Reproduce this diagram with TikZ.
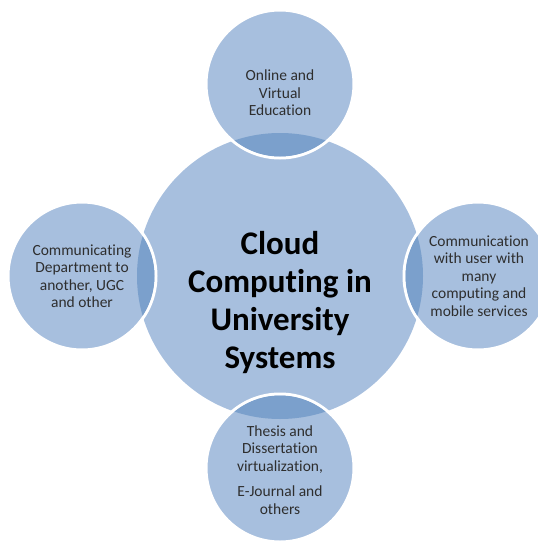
\documentclass[tikz,border=0pt]{standalone}
\usepackage{fontspec}
\setmainfont{Carlito}[Ligatures=NoCommon]
\usepackage{tikz}
\usetikzlibrary{positioning}
\definecolor{cloudblue}{HTML}{A7BFDE}
\definecolor{lensblue}{HTML}{7BA0CC}
\definecolor{leafgray}{HTML}{2E2E2E}
\tikzset{
  hub/.style={circle,fill=cloudblue,minimum size=286pt,inner sep=0pt},
  leaf/.style={circle,fill=cloudblue,draw=white,line width=3pt,minimum size=148pt,inner sep=0pt},
  leaftext/.style={align=center,text=leafgray,font=\fontsize{15.5}{17.5}\selectfont},
  hubtext/.style={align=center,font=\fontsize{33}{38}\selectfont\bfseries}
}

\begin{document}
\begin{tikzpicture}[x=1pt,y=-1pt]
  \useasboundingbox (0,0) rectangle (538,549);
  \node[hub] (hub) at (280,276) {};
  \node[leaf] (online) at (280,84) {};
  \node[leaf] (dept) at (82,276) {};
  \node[leaf] (user) at (478,276) {};
  \node[leaf] (thesis) at (280,468) {};
  % overlap with the hub
  \begin{scope}
    \clip (hub.center) circle (143pt);
    \foreach \leafname in {online,dept,user,thesis}
      \fill[lensblue] (\leafname.center) circle (72.5pt);
  \end{scope}
  \node[hubtext] (hublabel) at (280,303) {Cloud\\Computing in\\University\\Systems};
  \node[leaftext] (onlinelabel) at (280,93) {Online and\\Virtual\\Education};
  \node[leaftext] (deptlabel) at (82,276) {Communicating\\Department to\\another, UGC\\and other};
  \node[leaftext] (userlabel) at (479,276) {Communication\\with user with\\many\\computing and\\mobile services};
  \node[leaftext] (thesislabel) at (280,470) {Thesis and\\Dissertation\\virtualization,\\[8pt]E-Journal and\\others};
\end{tikzpicture}
\end{document}
